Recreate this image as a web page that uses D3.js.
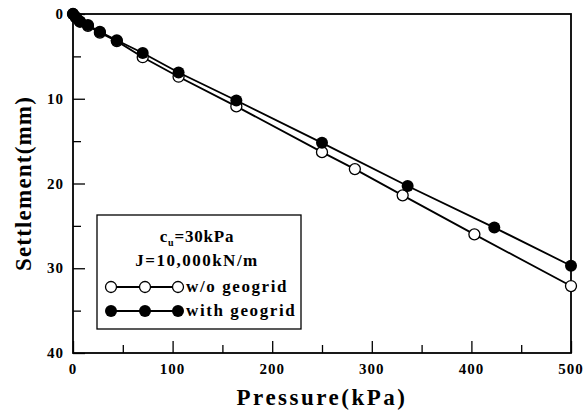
<!DOCTYPE html>
<html>
<head>
<meta charset="utf-8">
<script src="https://cdn.jsdelivr.net/npm/d3@7"></script>
<style>
  body { margin: 0; background: #fff; }
  text { font-family: "Liberation Serif", "Times New Roman", serif; font-weight: bold; }
</style>
</head>
<body>
<div id="chart"></div>
<script>
// w/o geogrid (open circles)
const pressureOpen = [0, 3, 7, 15, 27, 44, 70, 106, 164, 250, 283, 331, 403, 500];
const settleOpen   = [0, 0.4, 0.9, 1.4, 2.2, 3.2, 5.1, 7.4, 10.9, 16.3, 18.3, 21.4, 26.0, 32.1];
// with geogrid (filled circles)
const pressureFill = [0, 3, 7, 15, 27, 44, 70, 106, 164, 250, 336, 423, 500];
const settleFill   = [0, 0.4, 0.9, 1.3, 2.1, 3.1, 4.6, 6.9, 10.2, 15.2, 20.3, 25.2, 29.7];

const xTicks = [0, 100, 200, 300, 400, 500];
const yTicks = [0, 10, 20, 30, 40];

const margin = { top: 14, right: 17, bottom: 61, left: 73 };
const width = 588 - margin.left - margin.right;
const height = 414 - margin.top - margin.bottom;

const x = d3.scaleLinear().domain([0, 500]).range([0, width]);
const y = d3.scaleLinear().domain([0, 40]).range([0, height]);

const svg = d3.select('#chart')
  .append('svg')
  .attr('width', 588)
  .attr('height', 414);

const g = svg.append('g')
  .attr('transform', 'translate(' + margin.left + ',' + margin.top + ')');

// frame
g.append('rect')
  .attr('width', width).attr('height', height)
  .attr('fill', 'none').attr('stroke', '#000').attr('stroke-width', 1.8);

// ticks (inward)
const xAxis = d3.axisBottom(x).tickValues(d3.range(0, 501, 50))
  .tickSize(-10).tickFormat('');
g.append('g').attr('transform', 'translate(0,' + height + ')').call(xAxis)
  .call(a => a.select('.domain').remove())
  .selectAll('line').attr('stroke-width', 1.3)
  .attr('y2', d => d % 100 === 0 ? -12 : -8);

const yAxis = d3.axisLeft(y).tickValues(d3.range(0, 41, 5))
  .tickSize(-10).tickFormat('');
g.append('g').call(yAxis)
  .call(a => a.select('.domain').remove())
  .selectAll('line').attr('stroke-width', 1.3)
  .attr('x2', d => d % 10 === 0 ? 12 : 8);

// tick labels
g.selectAll('.xl').data(xTicks).join('text')
  .attr('x', d => x(d)).attr('y', height + 21)
  .attr('text-anchor', 'middle').attr('font-size', 15)
  .attr('letter-spacing', 1)
  .text(d => d);

g.selectAll('.yl').data(yTicks).join('text')
  .attr('x', -9).attr('y', d => y(d) + 5)
  .attr('text-anchor', 'end').attr('font-size', 15)
  .attr('letter-spacing', 1)
  .text(d => d);

// axis titles
svg.append('text')
  .attr('x', margin.left + width / 2).attr('y', 405)
  .attr('text-anchor', 'middle').attr('font-size', 23)
  .attr('letter-spacing', 2.5)
  .text('Pressure(kPa)');

svg.append('text')
  .attr('transform', 'translate(31,' + (margin.top + height / 2) + ') rotate(-90)')
  .attr('text-anchor', 'middle').attr('font-size', 23)
  .attr('letter-spacing', 1.2)
  .text('Settlement(mm)');

// series
const line = d3.line().x(d => x(d[0])).y(d => y(d[1]));
const openData = pressureOpen.map((p, i) => [p, settleOpen[i]]);
const fillData = pressureFill.map((p, i) => [p, settleFill[i]]);

g.append('path').datum(openData).attr('d', line)
  .attr('fill', 'none').attr('stroke', '#000').attr('stroke-width', 1.8);
g.append('path').datum(fillData).attr('d', line)
  .attr('fill', 'none').attr('stroke', '#000').attr('stroke-width', 1.8);

g.selectAll('.po').data(openData).join('circle')
  .attr('cx', d => x(d[0])).attr('cy', d => y(d[1])).attr('r', 5.5)
  .attr('fill', '#fff').attr('stroke', '#000').attr('stroke-width', 1.3);
g.selectAll('.pf').data(fillData).join('circle')
  .attr('cx', d => x(d[0])).attr('cy', d => y(d[1])).attr('r', 6)
  .attr('fill', '#000');

// legend
const lg = svg.append('g').attr('transform', 'translate(97,215)');
lg.append('rect').attr('width', 204).attr('height', 114)
  .attr('fill', '#fff').attr('stroke', '#000').attr('stroke-width', 1.3);

const t1 = lg.append('text').attr('x', 100).attr('y', 27)
  .attr('text-anchor', 'middle').attr('font-size', 17)
  .attr('letter-spacing', 0.8);
t1.append('tspan').text('c');
t1.append('tspan').attr('font-size', 10).attr('dy', 4).text('u');
t1.append('tspan').attr('dy', -4).text('=30kPa');

lg.append('text').attr('x', 100).attr('y', 51)
  .attr('text-anchor', 'middle').attr('font-size', 17)
  .attr('letter-spacing', 1.5)
  .text('J=10,000kN/m');

const legendRows = [
  { label: 'w/o geogrid', filled: false, y: 72 },
  { label: 'with geogrid', filled: true, y: 96 }
];
const symX = [14, 48, 81];
legendRows.forEach(r => {
  lg.append('line').attr('x1', symX[0]).attr('x2', symX[2])
    .attr('y1', r.y).attr('y2', r.y)
    .attr('stroke', '#000').attr('stroke-width', 1.8);
  lg.selectAll(null).data(symX).join('circle')
    .attr('cx', d => d).attr('cy', r.y).attr('r', r.filled ? 6 : 5.5)
    .attr('fill', r.filled ? '#000' : '#fff')
    .attr('stroke', '#000').attr('stroke-width', r.filled ? 0 : 1.3);
  lg.append('text').attr('x', 89).attr('y', r.y + 5)
    .attr('font-size', 17).attr('letter-spacing', 1.6).text(r.label);
});
</script>
</body>
</html>
